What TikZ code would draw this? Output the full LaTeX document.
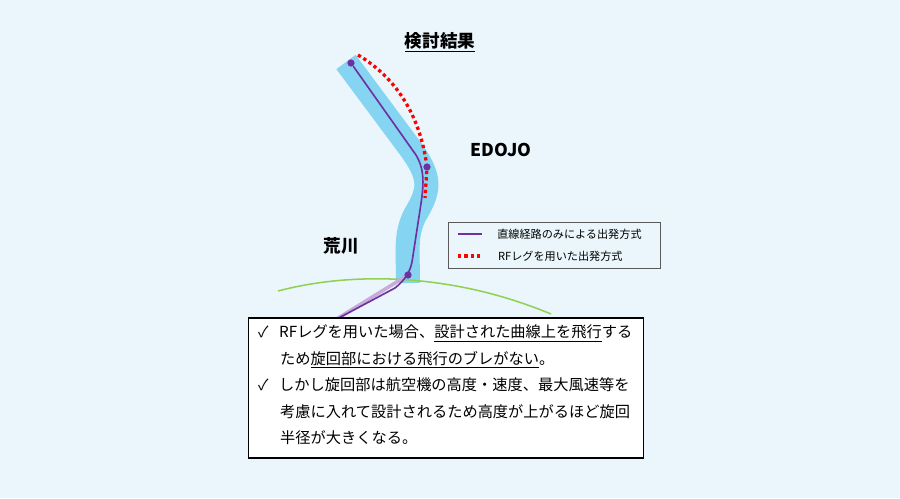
\documentclass[tikz,border=0pt]{standalone}
\usepackage{fontspec}
\setmainfont{Noto Sans CJK JP}
\usetikzlibrary{positioning}
\definecolor{bgcyan}{HTML}{EAF6FB}
\definecolor{band}{HTML}{84D4F2}
\definecolor{route}{HTML}{7030A0}
\definecolor{arcgreen}{HTML}{92D050}
\tikzset{
  lbl/.style={font=\fontsize{15pt}{17pt}\selectfont\bfseries},
  legbox/.style={draw=gray!70!black, thick, fill=bgcyan, minimum width=6.36cm, minimum height=1.38cm},
  notebox/.style={draw, very thick, fill=white, minimum width=11.85cm, minimum height=4.2cm},
  pt/.style={circle, fill=route, inner sep=2.2pt},
  rf/.style={red, line width=2.8pt, dash pattern=on 2.8pt off 2.6pt},
}
\begin{document}
\begin{tikzpicture}[x=0.03cm, y=-0.03cm]
  \fill[bgcyan] (0,0) rectangle (900,498);
  \useasboundingbox (0,0) rectangle (900,498);

  % --- protected area ---
  \draw[band, line width=0.72cm, line cap=butt]
    (346,62) -- (410,148) .. controls (432,178) and (430,190) .. (415,215)
    .. controls (405,235) and (408,250) .. (408,283);

  % --- green arc ---
  \draw[arcgreen, line width=1.3pt] (278,291) .. controls (350,272) and (450,272) .. (551,314);

  % --- routes ---
  \coordinate (S) at (335,320);
  \node[pt] (P1) at (351,63) {};
  \node[pt] (P2) at (427,167) {};
  \node[pt] (P3) at (408,275) {};
  \draw[route!40, line width=3pt] (P3) -- (S);
  \draw[route, line width=1.4pt] (P1) -- (416,155) .. controls (425,170) and (424,185) .. (420,210)
    -- (412,262) .. controls (410,272) and (405,280) .. (395,288) -- (S);
  \draw[rf] (358,55) .. controls (400,80) and (420,120) .. (P2) -- (425,198);

  % --- labels ---
  \node[lbl] (title) at (440,42) {\underline{検討結果}};
  \node[lbl] (edojo) at (501,150) {EDOJO};
  \node[lbl] (arakawa) at (341,246) {荒川};

  % --- legend ---
  \node[legbox] (leg) at (554,245) {};
  \coordinate (L1) at (458,234);
  \coordinate (L2) at (458,256);
  \draw[route, line width=1.4pt] (L1) -- ++(24,0) node[right=9pt, black, font=\fontsize{9.5pt}{10pt}\selectfont] {直線経路のみによる出発方式};
  \draw[rf] (L2) -- ++(24,0) node[right=9pt, black, font=\fontsize{9.5pt}{10pt}\selectfont] {RFレグを用いた出発方式};

  % --- notes ---
  \node[notebox] (note) at (446,388) {};
  \node[anchor=north west, align=left, font=\fontsize{13pt}{22.5pt}\selectfont] (txt) at (254,321)
    {✓\hspace{0.7em}RFレグを用いた場合、\underline{設計された曲線上を飛行}する\\
     \hspace{1.45em}ため\underline{旋回部における飛行のブレがない}。\\
     ✓\hspace{0.7em}しかし旋回部は航空機の高度・速度、最大風速等を\\
     \hspace{1.45em}考慮に入れて設計されるため高度が上がるほど旋回\\
     \hspace{1.45em}半径が大きくなる。};
\end{tikzpicture}
\end{document}
